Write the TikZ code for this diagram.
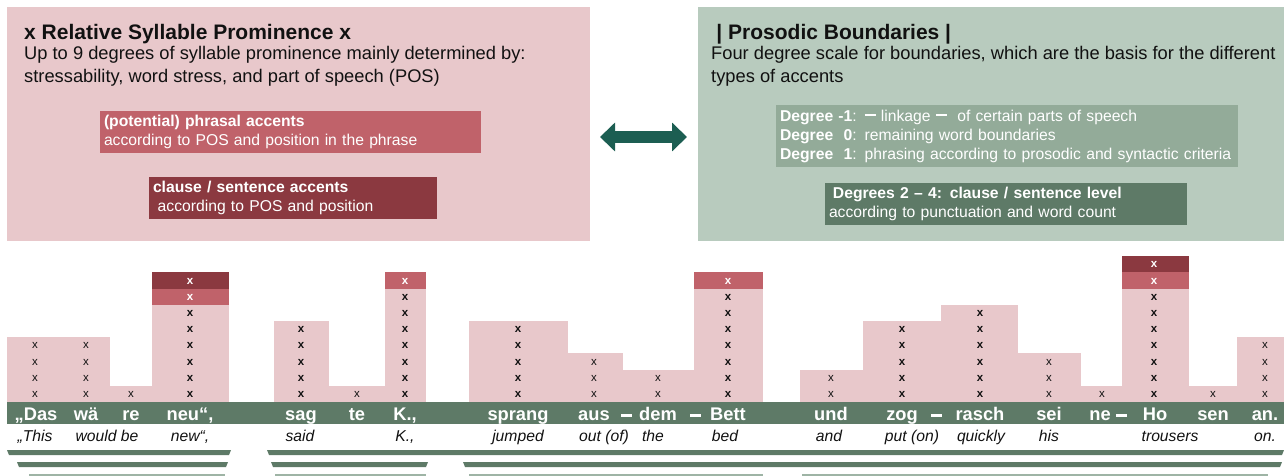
\documentclass[tikz,border=0pt]{standalone}
\usepackage{fontspec}
\setmainfont{Liberation Sans}
\usetikzlibrary{positioning,arrows.meta}

\definecolor{promlight}{HTML}{E8C8CB}
\definecolor{phrasal}{HTML}{C0626A}
\definecolor{clause}{HTML}{8B3940}
\definecolor{boundlight}{HTML}{B8CBBE}
\definecolor{degmid}{HTML}{93AB99}
\definecolor{sagedark}{HTML}{5E7A67}
\definecolor{sagefaint}{HTML}{9EB4A5}
\definecolor{arrowteal}{HTML}{1C5E52}
\definecolor{inkblack}{HTML}{111111}

\newcommand{\linkbar}{\rule[.3em]{.7em}{.17em}}

\begin{document}
\begin{tikzpicture}[x=1pt,y=-1pt,
  panel/.style={anchor=north west,inner sep=0pt,outer sep=0pt},
  heading/.style={anchor=base west,inner sep=0pt,text=inkblack,font=\fontsize{21}{25}\selectfont\bfseries},
  bodytext/.style={anchor=base west,inner sep=0pt,align=left,text=inkblack,font=\fontsize{18.3}{23}\selectfont},
  accbox/.style={anchor=north west,inner xsep=4pt,inner ysep=0pt,outer sep=0pt,align=left,text=white,font=\fontsize{15.7}{19}\selectfont},
  xmark/.style={inner sep=0pt,text=inkblack,font=\fontsize{11.5}{12}\selectfont#1},
  accx/.style={xmark=\bfseries,text=white},
  word/.style={anchor=base,inner sep=0pt,text=white,font=\fontsize{18.3}{20}\selectfont\bfseries},
  gloss/.style={anchor=base,inner sep=0pt,text=inkblack,font=\fontsize{15.7}{18}\selectfont\itshape},
  linkmark/.style={fill=white,inner sep=0pt,minimum width=11pt,minimum height=3pt}]
\useasboundingbox (0,0) rectangle (1284,476);

% top panels
\node[panel,fill=promlight,minimum width=583pt,minimum height=234pt] (prom) at (7,7) {};
\node[panel,fill=boundlight,minimum width=586pt,minimum height=234pt] (bound) at (698,7) {};

\node[heading] (prom-title) at (24,40) {x Relative Syllable Prominence x};
\node[bodytext] (prom-text) at (24,83) {Up to 9 degrees of syllable prominence mainly determined by:\\stressability, word stress, and part of speech (POS)};
\node[accbox,fill=phrasal,text width=373pt,minimum height=42pt] (phr) at (100,111)
  {\textbf{(potential) phrasal accents}\\according to POS and position in the phrase};
\node[accbox,fill=clause,text width=280pt,minimum height=42pt] (cla) at (149,177)
  {\textbf{clause / sentence accents}\\\hspace*{.3em}according to POS and position};

\node[heading] (bound-title) at (711,40) {\hspace*{.25em}| Prosodic Boundaries |};
\node[bodytext] (bound-text) at (711,83) {Four degree scale for boundaries, which are the basis for the different\\types of accents};
\node[accbox,fill=degmid,text width=454pt,minimum height=62pt] (deg) at (776,105)
  {\textbf{Degree -1}: \linkbar{} linkage \linkbar{}\ \ of certain parts of speech\\
   \textbf{Degree\ \ 0}: remaining word boundaries\\
   \textbf{Degree\ \ 1}: phrasing according to prosodic and syntactic criteria};
\node[accbox,fill=sagedark,text width=354pt,minimum height=42pt] (deghi) at (825,183)
  {\textbf{\hspace*{.25em}Degrees 2 -- 4: clause / sentence level}\\according to punctuation and word count};

\draw[arrowteal,line width=12pt,shorten <=10pt,shorten >=11pt,
  {Triangle[length=15pt,width=28pt]}-{Triangle[length=15pt,width=28pt]}]
  ([yshift=-13pt]prom.east) -- ([yshift=-13pt]bound.west);

% syllable columns: name/left/right/centre/levels/weight
\foreach \nm/\lx/\rx/\cx/\nl/\wt in {das/7/60/35/4/\mdseries, wae/60/110/86/4/\mdseries,
    re/110/152/131/1/\mdseries, neu/152/229/190/6/\bfseries, sag/274/329/301/5/\bfseries,
    te/329/385/357/1/\mdseries, ka/385/426/405/7/\bfseries, sprang/469/568/518/5/\bfseries,
    aus/568/623/594/3/\mdseries, dem/623/694/658/2/\mdseries, bett/694/763/728/7/\bfseries,
    und/800/863/831/2/\mdseries, zog/863/941/902/5/\bfseries, rasch/941/1018/980/6/\bfseries,
    sei/1018/1081/1049/3/\mdseries, ne/1081/1122/1102/1/\mdseries, ho/1122/1189/1154/7/\bfseries,
    sen/1189/1237/1213/1/\mdseries, an/1237/1284/1265/4/\mdseries}{
  \fill[promlight] (\lx,402) rectangle (\rx,{402-\nl*16.2});
  \foreach \k in {1,...,\nl}
    \node[xmark=\wt] (x-\nm-\k) at (\cx,{402.5-(\k-0.5)*16.2}) {x};
}
% phrasal and clause accents
\foreach \nm/\lx/\rx/\cx/\lv in {neu/152/229/190/7, ka/385/426/405/8, bett/694/763/728/8, ho/1122/1189/1154/8}{
  \fill[phrasal] (\lx,{402-(\lv-1)*16.2}) rectangle (\rx,{402-\lv*16.2});
  \node[accx] (p-\nm) at (\cx,{402.5-(\lv-0.5)*16.2}) {x};
}
\foreach \nm/\lx/\rx/\cx/\lv in {neu/152/229/190/8, ho/1122/1189/1154/9}{
  \fill[clause] (\lx,{402-(\lv-1)*16.2}) rectangle (\rx,{402-\lv*16.2});
  \node[accx] (c-\nm) at (\cx,{402.5-(\lv-0.5)*16.2}) {x};
}

% word band
\node[panel,fill=sagedark,minimum width=1277pt,minimum height=22pt] (band) at (7,402) {};
\foreach \nm/\cx/\txt in {das/36/„Das, wae/86/wä, re/131/re, neu/190/{neu“,}, sag/301/sag,
    te/357/te, ka/405/{K.,}, sprang/518/sprang, aus/594/aus, dem/658/dem, bett/728/Bett,
    und/831/und, zog/902/zog, rasch/980/rasch, sei/1049/sei, ne/1100/ne, ho/1155/Ho,
    sen/1213/sen, an/1265/an.}
  \node[word] (w-\nm) at (\cx,420) {\txt};
\foreach \i/\cx in {1/626, 2/695, 3/936, 4/1121}
  \node[linkmark] (lnk\i) at (\cx,415) {};

% glosses
\foreach \nm/\cx/\txt in {das/35/„This, wae/107/would be, neu/190/{new“,}, sag/300/said,
    ka/405/{K.,}, sprang/518/jumped, aus/604/out (of), dem/653/the, bett/725/bed,
    und/829/and, zog/912/put (on), rasch/981/quickly, sei/1049/his, ho/1170/trousers,
    an/1265/on.}
  \node[gloss] (g-\nm) at (\cx,441.5) {\txt};

% boundary bars
\foreach \top/\lx/\rx/\col in {450/7/231/sagedark, 450/267/1284/sagedark,
    462/17/228/sagedark, 462/271/428/sagedark, 462/463/1282/sagedark}
  \fill[fill=\col] (\lx,\top) -- (\rx,\top) -- (\rx-2,\top+5) -- (\lx+2,\top+5) -- cycle;
\foreach \lx/\rx in {29/225, 275/426, 469/763, 802/1268}
  \fill[sagefaint] (\lx,474) rectangle (\rx,477);
\end{tikzpicture}
\end{document}
